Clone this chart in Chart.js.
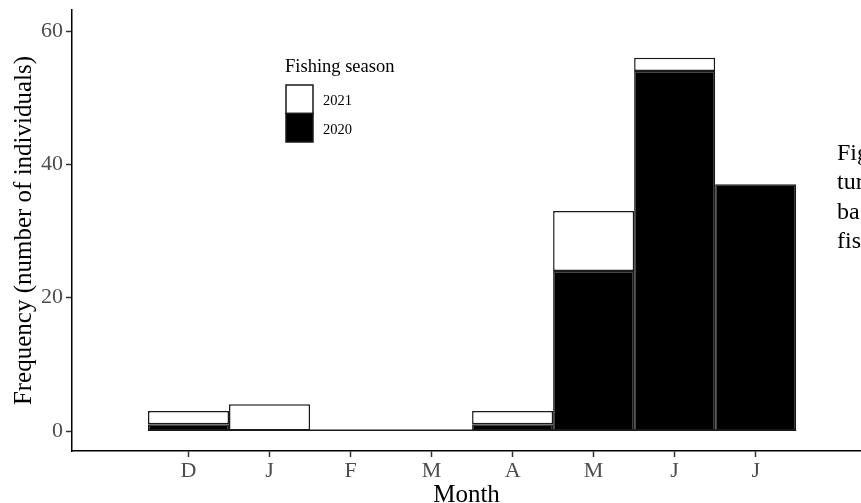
<!DOCTYPE html>
<html>
<head>
<meta charset="utf-8">
<script src="https://cdn.jsdelivr.net/npm/chart.js@4.4.1/dist/chart.umd.min.js"></script>
<style>
  html, body { margin: 0; padding: 0; background: #fff; overflow: hidden; }
  #wrap { position: relative; width: 861px; height: 503px; }
  #caption {
    position: absolute; left: 837px; top: 138px;
    font-family: "Liberation Serif", serif; font-size: 24px; line-height: 29.3px;
    color: #000; white-space: nowrap;
  }
</style>
</head>
<body>
<div id="wrap">
  <canvas id="chart" width="861" height="503"></canvas>
  <div id="caption">Fig<br>tur<br>ba<br>fis</div>
</div>
<script>
const months = ["D", "J", "F", "M", "A", "M", "J", "J"];
const season2020 = [1, 0, 0, 0, 1, 24, 54, 37];
const season2021 = [2, 4, 0, 0, 2, 9, 2, 0];
const yTicks = [0, 20, 40, 60];

const serif = "'Liberation Serif', 'DejaVu Serif', serif";
const edge = "#1a1a1a";

// bars sit on a linear x so the panel can run wider than the categories
const toPoints = (values) => values.map((v, i) => ({ x: i + 1, y: v }));

// flat line along 0 for the empty bins
const baseline = {
  id: "baseline",
  beforeDatasetsDraw(chart) {
    const { ctx, scales } = chart;
    const y = scales.y.getPixelForValue(0) - 0.75;
    ctx.save();
    ctx.strokeStyle = edge;
    ctx.lineWidth = 1.5;
    ctx.beginPath();
    ctx.moveTo(scales.x.getPixelForValue(0.5), y);
    ctx.lineTo(scales.x.getPixelForValue(months.length + 0.5), y);
    ctx.stroke();
    ctx.restore();
  },
};

// ggplot-style legend: title then stacked keys, newest on top
const seasonLegend = {
  id: "seasonLegend",
  afterDraw(chart) {
    const { ctx } = chart;
    const sets = chart.data.datasets.slice().reverse();
    ctx.save();
    ctx.fillStyle = "#000";
    ctx.font = "18.5px " + serif;
    ctx.textBaseline = "alphabetic";
    ctx.fillText("Fishing season", 285, 72);
    sets.forEach((ds, i) => {
      const top = 85 + i * 28.5;
      ctx.fillStyle = ds.backgroundColor;
      ctx.fillRect(286, top, 27, 28.5);
      ctx.strokeStyle = edge;
      ctx.lineWidth = 1.5;
      ctx.strokeRect(286, top, 27, 28.5);
      ctx.fillStyle = "#000";
      ctx.font = "14.5px " + serif;
      ctx.fillText(ds.label, 323, top + 20);
    });
    ctx.restore();
  },
};

new Chart(document.getElementById("chart").getContext("2d"), {
  type: "bar",
  data: {
    datasets: [
      {
        label: "2020",
        data: toPoints(season2020),
        backgroundColor: "#000000",
        borderColor: edge,
        borderWidth: 1.5,
        borderSkipped: false,
        inflateAmount: 0,
        barPercentage: 1,
        categoryPercentage: 1,
      },
      {
        label: "2021",
        data: toPoints(season2021),
        backgroundColor: "#ffffff",
        borderColor: edge,
        borderWidth: 1.5,
        borderSkipped: false,
        inflateAmount: 0,
        barPercentage: 1,
        categoryPercentage: 1,
      },
    ],
  },
  options: {
    responsive: false,
    animation: false,
    layout: { padding: { top: 10, right: 0, left: 0, bottom: 0 } },
    plugins: {
      legend: { display: false },
      tooltip: { enabled: false },
    },
    scales: {
      x: {
        type: "linear",
        stacked: true,
        offset: false,
        min: -0.438,
        max: 9.3,
        afterFit: (s) => { s.height = 52; s.paddingLeft = 0; s.paddingRight = 0; },
        afterBuildTicks: (s) => { s.ticks = months.map((m, i) => ({ value: i + 1 })); },
        border: { display: true, color: "#000", width: 1.5 },
        grid: { offset: false, drawOnChartArea: false, drawTicks: true, tickLength: 6, tickColor: "#333", tickWidth: 1.5 },
        ticks: {
          autoSkip: false,
          maxRotation: 0,
          color: "#4d4d4d",
          padding: 1,
          font: { family: serif, size: 22 },
          callback: (v, i) => months[i],
        },
        title: {
          display: true,
          text: "Month",
          color: "#000",
          font: { family: serif, size: 25, lineHeight: 1 },
          padding: { top: 0, bottom: -5 },
        },
      },
      y: {
        stacked: true,
        min: -3,
        max: 63.15,
        afterFit: (s) => { s.width = 72; s.paddingTop = 0; s.paddingBottom = 0; },
        afterBuildTicks: (s) => { s.ticks = yTicks.map((v) => ({ value: v })); },
        border: { display: true, color: "#000", width: 1.5 },
        grid: { drawOnChartArea: false, drawTicks: true, tickLength: 6, tickColor: "#333", tickWidth: 1.5 },
        ticks: {
          color: "#4d4d4d",
          padding: 3,
          font: { family: serif, size: 22 },
        },
        title: {
          display: true,
          text: "Frequency (number of individuals)",
          color: "#000",
          font: { family: serif, size: 25 },
          padding: { top: 9, bottom: 0 },
        },
      },
    },
  },
  plugins: [baseline, seasonLegend],
});
</script>
</body>
</html>
